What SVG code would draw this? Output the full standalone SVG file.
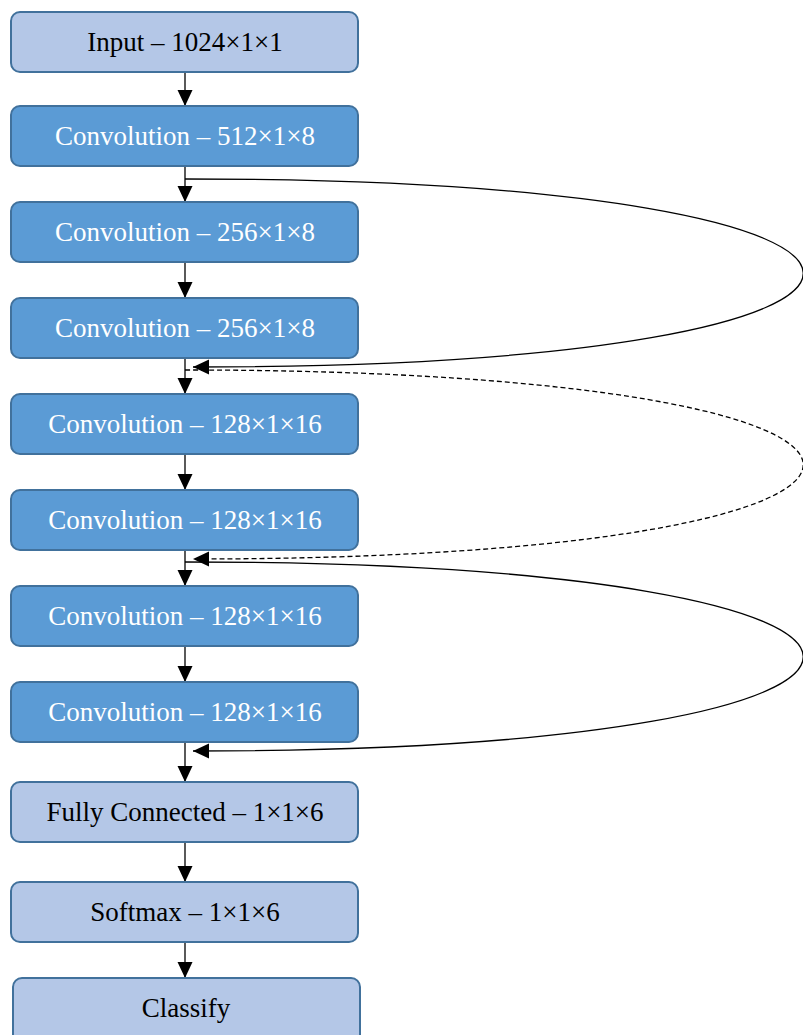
<svg xmlns="http://www.w3.org/2000/svg" width="803" height="1035" viewBox="0 0 803 1035">
<style>
.lt{fill:#B4C7E7;stroke:#41719C;stroke-width:2}
.dk{fill:#5B9BD5;stroke:#41719C;stroke-width:2}
text{font-family:"Liberation Serif","Times New Roman",serif;font-size:27px;text-anchor:middle}
.tb{fill:#000}
.tw{fill:#fff}
.c{fill:none;stroke:#000;stroke-width:1.3}
.d{stroke-dasharray:5,3}
</style>
<defs>
<marker id="ah" markerUnits="userSpaceOnUse" markerWidth="16" markerHeight="16" viewBox="0 0 16 16" refX="16" refY="8" orient="auto">
<path d="M0,0.5 L16,8 L0,15.5 Z" fill="#000"/>
</marker>
</defs>
<rect width="803" height="1035" fill="#fff"/>
<g id="connectors">
<path class="c" d="M185,72 V106" marker-end="url(#ah)"/>
<path class="c" d="M185,166 V202" marker-end="url(#ah)"/>
<path class="c" d="M185,262 V298" marker-end="url(#ah)"/>
<path class="c" d="M185,358 V394" marker-end="url(#ah)"/>
<path class="c" d="M185,454 V490" marker-end="url(#ah)"/>
<path class="c" d="M185,550 V586" marker-end="url(#ah)"/>
<path class="c" d="M185,646 V682" marker-end="url(#ah)"/>
<path class="c" d="M185,742 V782" marker-end="url(#ah)"/>
<path class="c" d="M185,842 V882" marker-end="url(#ah)"/>
<path class="c" d="M185,942 V978" marker-end="url(#ah)"/>
<path class="c" d="M185,179 C1008,179 1008,367 193,367" marker-end="url(#ah)"/>
<path class="c d" d="M185,370 C1008,370 1008,559 193,559" marker-end="url(#ah)"/>
<path class="c" d="M185,562 C1008,562 1008,751 193,751" marker-end="url(#ah)"/>
</g>
<g id="n1"><rect class="lt" x="11" y="12" width="347" height="60" rx="9"/><text class="tb" x="185" y="51">Input – 1024×1×1</text></g>
<g id="n2"><rect class="dk" x="11" y="106" width="347" height="60" rx="9"/><text class="tw" x="185" y="145">Convolution – 512×1×8</text></g>
<g id="n3"><rect class="dk" x="11" y="202" width="347" height="60" rx="9"/><text class="tw" x="185" y="241">Convolution – 256×1×8</text></g>
<g id="n4"><rect class="dk" x="11" y="298" width="347" height="60" rx="9"/><text class="tw" x="185" y="337">Convolution – 256×1×8</text></g>
<g id="n5"><rect class="dk" x="11" y="394" width="347" height="60" rx="9"/><text class="tw" x="185" y="433">Convolution – 128×1×16</text></g>
<g id="n6"><rect class="dk" x="11" y="490" width="347" height="60" rx="9"/><text class="tw" x="185" y="529">Convolution – 128×1×16</text></g>
<g id="n7"><rect class="dk" x="11" y="586" width="347" height="60" rx="9"/><text class="tw" x="185" y="625">Convolution – 128×1×16</text></g>
<g id="n8"><rect class="dk" x="11" y="682" width="347" height="60" rx="9"/><text class="tw" x="185" y="721">Convolution – 128×1×16</text></g>
<g id="n9"><rect class="lt" x="11" y="782" width="347" height="60" rx="9"/><text class="tb" x="185" y="821">Fully Connected – 1×1×6</text></g>
<g id="n10"><rect class="lt" x="11" y="882" width="347" height="60" rx="9"/><text class="tb" x="185" y="921">Softmax – 1×1×6</text></g>
<g id="n11"><rect class="lt" x="13" y="978" width="347" height="66" rx="9"/><text class="tb" x="186" y="1017">Classify</text></g>
</svg>
